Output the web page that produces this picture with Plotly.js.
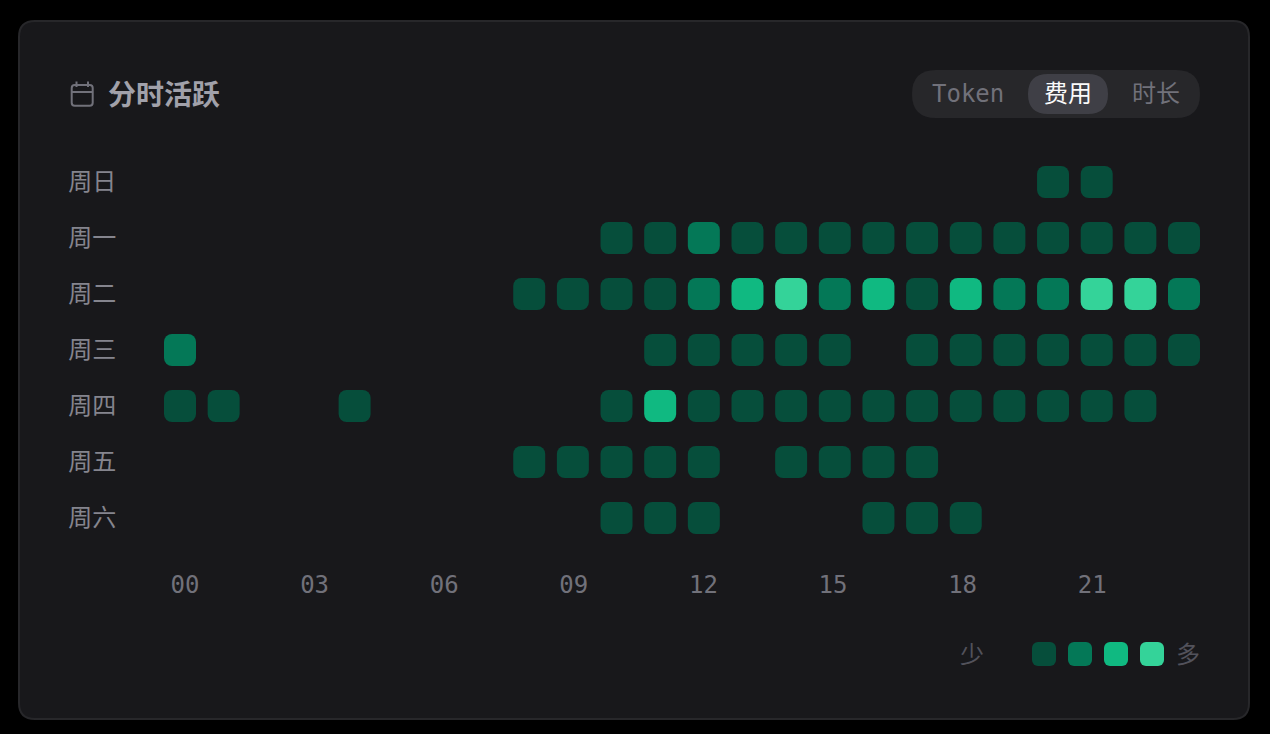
<!DOCTYPE html>
<html><head><meta charset="utf-8">
<script src="https://cdn.plot.ly/plotly-3.0.1.min.js"></script>
<style>
html,body{margin:0;padding:0;background:#000;overflow:hidden}
#c{width:1270px;height:734px}
.scatterlayer .point{stroke-linejoin:round}
</style></head><body><div id="c"></div>
<script>
const days = ['周日','周一','周二','周三','周四','周五','周六'];
const hourLabels = ['00','03','06','09','12','15','18','21'];
// activity level per hour, 00..23 (0 = no activity)
const sun = [0,0,0,0,0,0,0,0,0,0,0,0,0,0,0,0,0,0,0,0,1,1,0,0];
const mon = [0,0,0,0,0,0,0,0,0,0,1,1,2,1,1,1,1,1,1,1,1,1,1,1];
const tue = [0,0,0,0,0,0,0,0,1,1,1,1,2,3,4,2,3,1,3,2,2,4,4,2];
const wed = [2,0,0,0,0,0,0,0,0,0,0,1,1,1,1,1,0,1,1,1,1,1,1,1];
const thu = [1,1,0,0,1,0,0,0,0,0,1,3,1,1,1,1,1,1,1,1,1,1,1,0];
const fri = [0,0,0,0,0,0,0,0,1,1,1,1,1,0,1,1,1,1,0,0,0,0,0,0];
const sat = [0,0,0,0,0,0,0,0,0,0,1,1,1,0,0,0,1,1,1,0,0,0,0,0];
const rows = [sun,mon,tue,wed,thu,fri,sat];
const levels = [1,2,3,4];
const levelColors = ['#064e3b','#047857','#10b981','#34d399'];

const W=1270,H=734;
const px=x=>x/W, py=y=>1-y/H;
const rr=(x0,y0,x1,y1,r)=>{
  const X=v=>px(v),Y=v=>py(v);
  const steps=[[x0+r,y0],[x1-r,y0],[x1,y0,x1,y0+r],[x1,y1-r],[x1,y1,x1-r,y1],[x0+r,y1],[x0,y1,x0,y1-r],[x0,y0+r],[x0,y0,x0+r,y0]];
  return steps.map((s,i)=>i==0?`M${X(s[0])},${Y(s[1])}`:s.length==2?`L${X(s[0])},${Y(s[1])}`:`Q${X(s[0])},${Y(s[1])} ${X(s[2])},${Y(s[3])}`).join(' ')+' Z';
};
const shape=(path,fill,line,width)=>({type:'path',xref:'paper',yref:'paper',path,fillcolor:fill,line:{color:line||'rgba(0,0,0,0)',width:width||0},layer:'below'});
const seg=(a,b,c,d)=>`M${px(a)},${py(b)} L${px(c)},${py(d)}`;

const xs=[],ys=[],cs=[];
rows.forEach((r,i)=>r.forEach((v,h)=>{ if(v){xs.push(h);ys.push(days[i]);cs.push(levelColors[v-1]);}}));

const traces=[
 {type:'scatter',mode:'markers',x:xs,y:ys,hoverinfo:'skip',cliponaxis:false,
  marker:{symbol:'square',size:16,color:cs,line:{width:16,color:cs}}},
 {type:'scatter',mode:'markers',xaxis:'x2',yaxis:'y2',x:levels,y:levels.map(()=>0),hoverinfo:'skip',cliponaxis:false,
  marker:{symbol:'square',size:12,color:levelColors,line:{width:12,color:levelColors}}}
];

const cellPitch=(1205.83-158.17)/24, labelPitch=129.6/3;
const tickPos=hourLabels.map(s=>{const h=+s;return (185+labelPitch*h-180)/cellPitch;});
const mono='"DejaVu Sans Mono","Noto Sans CJK SC",monospace';
const cjk='"Noto Sans CJK SC",sans-serif';
const note=(text,x,y,size,color,font,anchor,weight)=>({text,x:px(x),y:py(y),xref:'paper',yref:'paper',xanchor:anchor||'left',yanchor:'middle',showarrow:false,borderpad:0,
  font:{size,color,family:font,weight:weight||400}});

const layout={
 width:W,height:H,margin:{l:0,r:0,t:0,b:0},paper_bgcolor:'#000',plot_bgcolor:'rgba(0,0,0,0)',showlegend:false,
 xaxis:{domain:[158.17/W,1205.83/W],range:[-0.5,23.5],tickmode:'array',tickvals:tickPos,ticktext:hourLabels,showgrid:false,zeroline:false,showline:false,ticks:'',
   ticklabelstandoff:22,tickfont:{family:mono,size:24,color:'#71717a'},fixedrange:true},
 yaxis:{domain:[1-546/H,1-154/H],type:'category',categoryorder:'array',categoryarray:days,range:[6.5,-0.5],showgrid:false,zeroline:false,showline:false,ticks:'',
   ticklabelstandoff:41,tickfont:{family:cjk,size:24,color:'#85858e'},fixedrange:true},
 xaxis2:{domain:[1026/W,1170/W],range:[0.5,4.5],visible:false,anchor:'y2',fixedrange:true},
 yaxis2:{domain:[1-672/H,1-636/H],range:[-1,1],visible:false,anchor:'x2',fixedrange:true},
 shapes:[
  shape(rr(19,21,1249,719,16),'#18181b','#27272a',2),
  shape(rr(912,70,1200,118,24),'#27272a'),
  shape(rr(1028,74,1108,114,20),'#3f3f46'),
  shape(rr(71.7,85,92.7,105.7,3),'rgba(0,0,0,0)','#71717a',2),
  shape(seg(71.7,92,92.7,92),'rgba(0,0,0,0)','#71717a',2),
  shape(seg(76.5,81.5,76.5,87),'rgba(0,0,0,0)','#71717a',2),
  shape(seg(88,81.5,88,87),'rgba(0,0,0,0)','#71717a',2)
 ],
 annotations:[
  note('分时活跃',106.5,93,28,'#a1a1aa',cjk,'left',700),
  note('Token',968,94,24,'#71717a',mono,'center'),
  note('费用',1068,92,24,'#fafafa',cjk,'center'),
  note('时长',1156,92,24,'#71717a',cjk,'center'),
  note('少',972,652,24,'#52525b',cjk,'center'),
  note('多',1188,652,24,'#52525b',cjk,'center')
 ]
};
Plotly.newPlot('c',traces,layout,{displayModeBar:false,staticPlot:true});
</script></body></html>
